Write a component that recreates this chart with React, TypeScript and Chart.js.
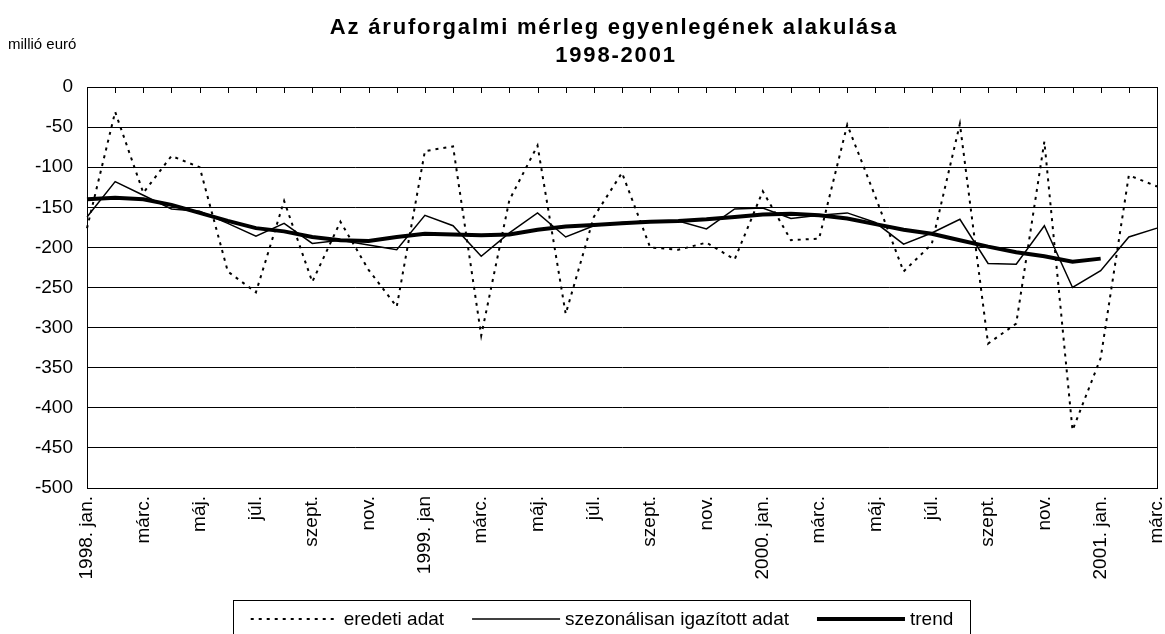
import React, { useEffect, useRef } from 'react';
import { Chart, registerables } from 'chart.js';

Chart.register(...registerables);

const FONT = '"Liberation Sans", Arial, sans-serif';

const categories = [
  '1998. jan.', 'febr.', 'márc.', 'ápr.', 'máj.', 'jún.', 'júl.', 'aug.', 'szept.', 'okt.', 'nov.', 'dec.',
  '1999. jan', 'febr.', 'márc.', 'ápr.', 'máj.', 'jún.', 'júl.', 'aug.', 'szept.', 'okt.', 'nov.', 'dec.',
  '2000. jan.', 'febr.', 'márc.', 'ápr.', 'máj.', 'jún.', 'júl.', 'aug.', 'szept.', 'okt.', 'nov.', 'dec.',
  '2001. jan.', 'febr.', 'márc.',
];

const eredetiAdat = [
  -176, -31, -132, -86, -100, -230, -256, -142, -243, -168, -228, -274,
  -80, -74, -310, -141, -73, -283, -162, -107, -200, -203, -194, -215,
  -130, -191, -189, -47, -137, -230, -196, -46, -320, -295, -68, -428,
  -338, -110, -124,
];

const szezonalisanIgazitott = [
  -162, -118, -135, -152, -155, -170, -186, -170, -195, -191, -197, -203,
  -160, -173, -211, -182, -157, -187, -173, -169, -167, -167, -177, -152,
  -151, -164, -160, -157, -169, -196, -182, -165, -220, -221, -173, -250,
  -229, -187, -176,
];

const trend = [
  -140, -138, -140, -147, -157, -167, -176, -180, -187, -191, -192, -187,
  -183, -184, -185, -184, -178, -174, -172, -170, -168, -167, -165, -162,
  -159, -158, -160, -164, -171, -178, -183, -191, -199, -206, -211, -218,
  -214, null, null,
];

const seriesNames = ['eredeti adat', 'szezonálisan igazított adat', 'trend'];
const titleLines = ['Az áruforgalmi mérleg egyenlegének alakulása', '1998-2001'];
const unitLabel = 'millió euró';

const decorPlugin = {
  id: 'decor',
  afterDraw(chart: any) {
    const ctx = chart.ctx;
    const { left, right, top, bottom } = chart.chartArea;
    const xs = chart.scales.x;
    ctx.save();
    // plot border
    ctx.strokeStyle = '#000';
    ctx.lineWidth = 1;
    ctx.setLineDash([]);
    ctx.strokeRect(Math.round(left) + 0.5, Math.round(top) + 0.5, Math.round(right - left), Math.round(bottom - top));
    // top category tick marks
    ctx.beginPath();
    for (let i = 0; i < categories.length; i++) {
      const x = Math.round(xs.getPixelForValue(i)) + 0.5;
      ctx.moveTo(x, Math.round(top));
      ctx.lineTo(x, Math.round(top) + 6);
    }
    ctx.stroke();

    // title
    ctx.fillStyle = '#000';
    ctx.textAlign = 'center';
    ctx.textBaseline = 'middle';
    ctx.font = `bold 22px ${FONT}`;
    (ctx as any).letterSpacing = '1.8px';
    ctx.fillText(titleLines[0], 614, 28);
    ctx.fillText(titleLines[1], 616, 56);
    (ctx as any).letterSpacing = '0px';

    // unit label
    ctx.font = `15px ${FONT}`;
    ctx.textAlign = 'left';
    ctx.fillText(unitLabel, 8, 45);

    // legend
    const boxL = 233.5, boxT = 600.5, boxW = 737, boxH = 50;
    ctx.strokeRect(boxL, boxT, boxW, boxH);
    const ly = 619;
    const sampleLen = 88;
    const items = chart.data.datasets.map((ds: any) => ds);
    ctx.font = `19px ${FONT}`;
    const widths = items.map((ds: any) => ctx.measureText(ds.label).width);
    const gap = 5, itemGap = 28;
    const total = widths.reduce((a: number, w: number) => a + sampleLen + gap + w, 0) + itemGap * (items.length - 1);
    let x = boxL + (boxW - total) / 2;
    items.forEach((ds: any, i: number) => {
      ctx.beginPath();
      ctx.lineWidth = ds.borderWidth;
      ctx.setLineDash(ds.borderDash || []);
      ctx.moveTo(x, ly);
      ctx.lineTo(x + sampleLen, ly);
      ctx.stroke();
      ctx.setLineDash([]);
      x += sampleLen + gap;
      ctx.fillText(ds.label, x, ly + 1);
      x += widths[i] + itemGap;
    });
    ctx.restore();
  },
};

export default function App() {
  const ref = useRef<HTMLCanvasElement | null>(null);
  useEffect(() => {
    if (!ref.current) return;
    const chart = new Chart(ref.current, {
      type: 'line',
      data: {
        labels: categories,
        datasets: [
          {
            label: seriesNames[0],
            data: eredetiAdat,
            borderColor: '#000',
            borderWidth: 2,
            borderDash: [3, 5],
            pointRadius: 0,
            tension: 0,
            fill: false,
          },
          {
            label: seriesNames[1],
            data: szezonalisanIgazitott,
            borderColor: '#000',
            borderWidth: 1.5,
            pointRadius: 0,
            tension: 0,
            fill: false,
          },
          {
            label: seriesNames[2],
            data: trend,
            borderColor: '#000',
            borderWidth: 4,
            pointRadius: 0,
            tension: 0,
            fill: false,
            spanGaps: false,
          },
        ],
      },
      options: {
        animation: false,
        responsive: false,
        maintainAspectRatio: false,
        events: [],
        layout: { padding: { top: 87, right: 8, left: 0, bottom: 0 } },
        plugins: {
          legend: { display: false },
          title: { display: false },
          tooltip: { enabled: false },
        },
        scales: {
          x: {
            type: 'category',
            offset: false,
            grid: { display: false, drawTicks: false },
            border: { display: false },
            ticks: {
              autoSkip: false,
              minRotation: 90,
              maxRotation: 90,
              padding: 8,
              color: '#000',
              font: { family: FONT, size: 19 },
              callback: (_v: any, i: number) => (i % 2 === 0 ? categories[i] : ''),
            },
            afterFit: (s: any) => {
              s.height = 650 - 488;
              s.paddingLeft = 0;
              s.paddingRight = 0;
            },
          },
          y: {
            min: -500,
            max: 0,
            ticks: {
              stepSize: 50,
              color: '#000',
              padding: 14,
              font: { family: FONT, size: 19 },
            },
            grid: { color: '#000', lineWidth: 1, drawTicks: false },
            border: { display: true, color: '#000', width: 1 },
            afterFit: (s: any) => {
              s.width = 87;
              s.paddingTop = 0;
              s.paddingBottom = 0;
            },
          },
        },
      },
      plugins: [decorPlugin],
    });
    return () => chart.destroy();
  }, []);

  return (
    <div style={{ position: 'absolute', left: 0, top: 0, width: 1165, height: 650 }}>
      <canvas ref={ref} width={1165} height={650} style={{ display: 'block' }} />
    </div>
  );
}
